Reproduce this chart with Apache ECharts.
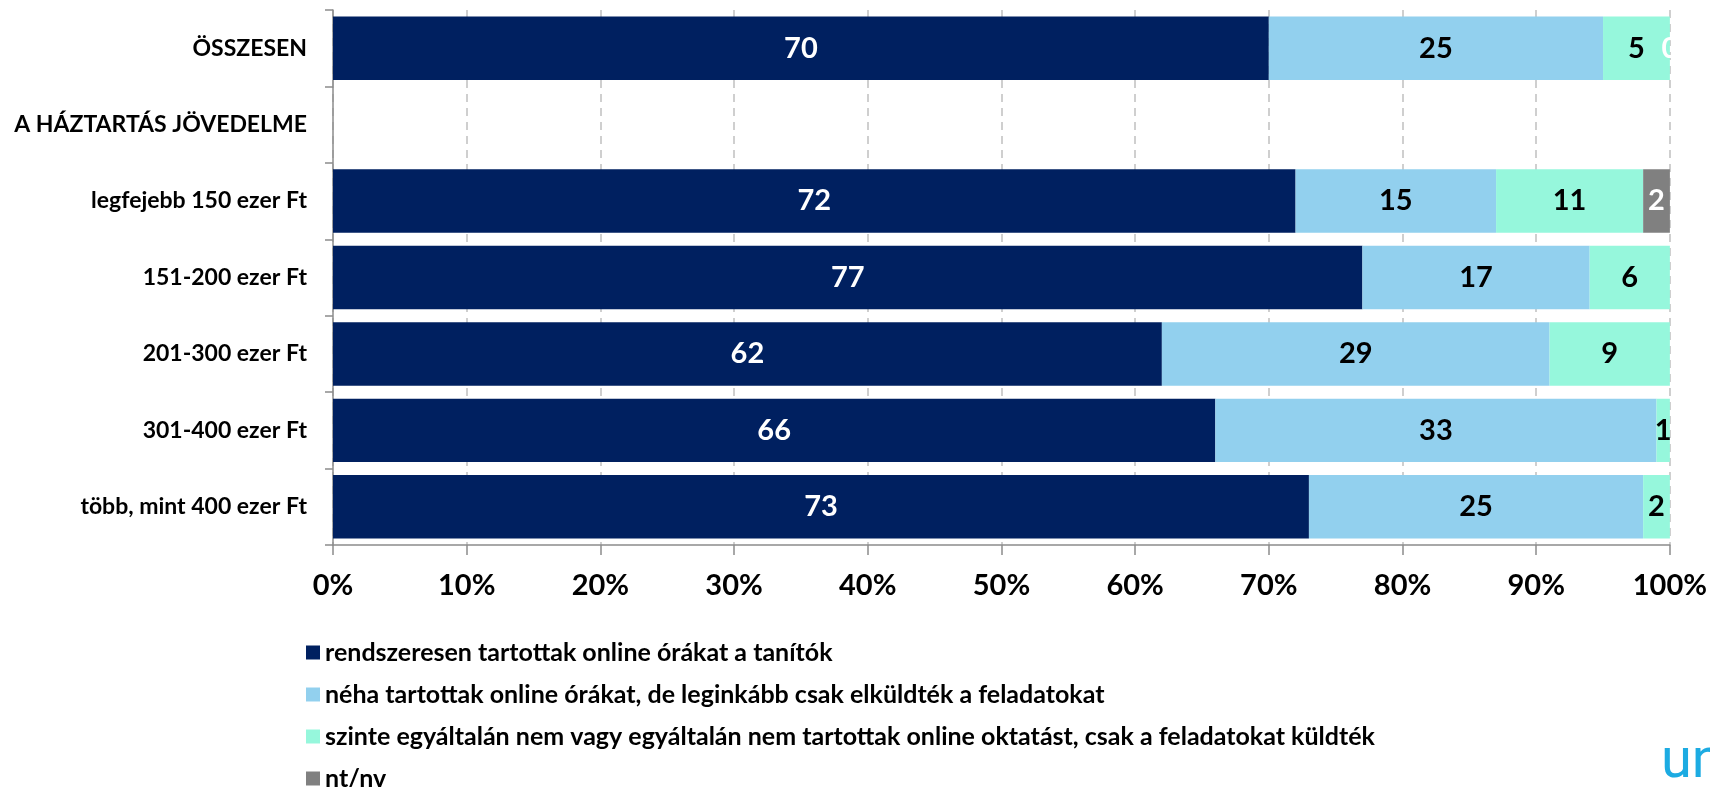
<!DOCTYPE html>
<html>
<head>
<meta charset="utf-8">
<script src="https://cdn.jsdelivr.net/npm/echarts@6/dist/echarts.min.js"></script>
<style>
  html, body { margin: 0; padding: 0; background: #fff; }
  #chart { width: 1710px; height: 787px; }
</style>
</head>
<body>
<div id="chart"></div>
<script>
// kategóriák (fentről lefelé)
const categories = [
  'ÖSSZESEN',
  'A HÁZTARTÁS JÖVEDELME',
  'legfejebb 150 ezer Ft',
  '151-200 ezer Ft',
  '201-300 ezer Ft',
  '301-400 ezer Ft',
  'több, mint 400 ezer Ft',
];

const seriesNames = [
  'rendszeresen tartottak online órákat a tanítók',
  'néha tartottak online órákat, de leginkább csak elküldték a feladatokat',
  'szinte egyáltalán nem vagy egyáltalán nem tartottak online oktatást, csak a feladatokat küldték',
  'nt/nv',
];

const rendszeresen = [70, null, 72, 77, 62, 66, 73];
const neha = [25, null, 15, 17, 29, 33, 25];
const szinte = [5, null, 11, 6, 9, 1, 2];
const ntnv = [0, null, 2, null, null, null, null];

const xTicks = [0, 10, 20, 30, 40, 50, 60, 70, 80, 90, 100];

const colors = ['#002060', '#92D0EE', '#96F7DC', '#808080'];
const labelColors = ['#fff', '#000', '#000', '#fff'];
const FONT = 'Lato';

const chart = echarts.init(document.getElementById('chart'));

const makeSeries = (name, data, i) => ({
  name,
  type: 'bar',
  stack: 'total',
  data,
  barCategoryGap: '17%',
  itemStyle: { color: colors[i] },
  label: {
    show: true,
    position: 'inside',
    color: labelColors[i],
    fontFamily: FONT,
    fontWeight: 'bold',
    fontSize: 29,
    formatter: (p) => p.value,
  },
});

chart.setOption({
  animation: false,
  textStyle: { fontFamily: FONT },
  grid: {
    left: 333,
    right: 40,
    top: 10,
    bottom: 242,
  },
  legend: {
    orient: 'vertical',
    left: 301,
    top: 635,
    height: 220,
    itemWidth: 14,
    itemHeight: 14,
    itemGap: 17,
    icon: 'rect',
    data: seriesNames,
    textStyle: {
      fontFamily: FONT,
      fontWeight: 'bold',
      fontSize: 25,
      color: '#000',
    },
  },
  xAxis: {
    type: 'value',
    min: xTicks[0],
    max: xTicks[xTicks.length - 1],
    interval: 10,
    axisLine: { show: true, lineStyle: { color: '#8C8C8C', width: 1.5 } },
    axisTick: { show: true, length: 10, lineStyle: { color: '#8C8C8C', width: 1.5 } },
    axisLabel: {
      margin: 26,
      fontFamily: FONT,
      fontWeight: 'bold',
      fontSize: 29,
      color: '#000',
      formatter: '{value}%',
    },
    splitLine: {
      show: true,
      lineStyle: { type: [8, 6], color: '#C0C0C0', width: 1.5 },
    },
  },
  yAxis: {
    type: 'category',
    inverse: true,
    data: categories,
    axisLine: { show: true, lineStyle: { color: '#8C8C8C', width: 1.5 } },
    axisTick: { show: true, length: 8, lineStyle: { color: '#8C8C8C', width: 1.5 } },
    axisLabel: {
      margin: 26,
      fontFamily: FONT,
      fontWeight: 'bold',
      fontSize: 23,
      color: '#000',
    },
  },
  series: [
    makeSeries(seriesNames[0], rendszeresen, 0),
    makeSeries(seriesNames[1], neha, 1),
    makeSeries(seriesNames[2], szinte, 2),
    makeSeries(seriesNames[3], ntnv, 3),
  ],
  graphic: [
    {
      type: 'text',
      left: 1661,
      top: 735,
      style: {
        text: 'un',
        fill: '#1CABE2',
        font: '56px Roboto',
      },
    },
  ],
});
</script>
</body>
</html>
